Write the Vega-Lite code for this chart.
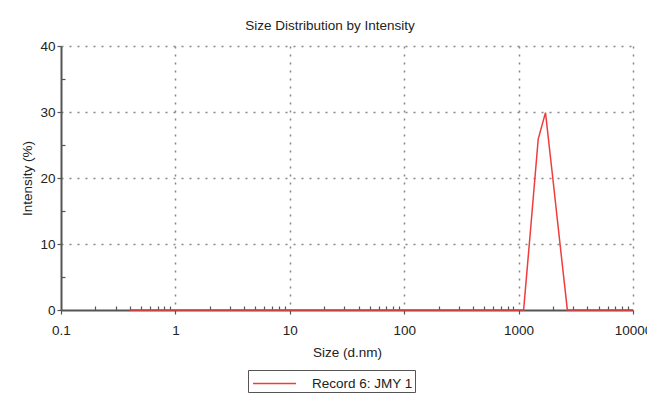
{
  "$schema": "https://vega.github.io/schema/vega-lite/v6.json",
  "width": 572,
  "height": 264,
  "autosize": {"type": "none"},
  "padding": {"left": 61, "top": 46, "right": 14, "bottom": 88},
  "background": "white",
  "title": {
    "text": "Size Distribution by Intensity",
    "font": "Liberation Sans",
    "fontSize": 13.5,
    "fontWeight": "normal",
    "color": "#222",
    "anchor": "middle",
    "dx": -17,
    "offset": 7
  },
  "config": {
    "view": {"stroke": null},
    "font": "Liberation Sans"
  },
  "data": {
    "values": [
      {"size": 0.4, "intensity": 0, "series": "Record 6: JMY 1"},
      {"size": 0.4632, "intensity": 0, "series": "Record 6: JMY 1"},
      {"size": 0.5365, "intensity": 0, "series": "Record 6: JMY 1"},
      {"size": 0.6213, "intensity": 0, "series": "Record 6: JMY 1"},
      {"size": 0.7195, "intensity": 0, "series": "Record 6: JMY 1"},
      {"size": 0.8332, "intensity": 0, "series": "Record 6: JMY 1"},
      {"size": 0.9649, "intensity": 0, "series": "Record 6: JMY 1"},
      {"size": 1.117, "intensity": 0, "series": "Record 6: JMY 1"},
      {"size": 1.499, "intensity": 0, "series": "Record 6: JMY 1"},
      {"size": 2.01, "intensity": 0, "series": "Record 6: JMY 1"},
      {"size": 2.696, "intensity": 0, "series": "Record 6: JMY 1"},
      {"size": 3.615, "intensity": 0, "series": "Record 6: JMY 1"},
      {"size": 4.849, "intensity": 0, "series": "Record 6: JMY 1"},
      {"size": 6.503, "intensity": 0, "series": "Record 6: JMY 1"},
      {"size": 8.721, "intensity": 0, "series": "Record 6: JMY 1"},
      {"size": 11.7, "intensity": 0, "series": "Record 6: JMY 1"},
      {"size": 15.69, "intensity": 0, "series": "Record 6: JMY 1"},
      {"size": 21.04, "intensity": 0, "series": "Record 6: JMY 1"},
      {"size": 28.21, "intensity": 0, "series": "Record 6: JMY 1"},
      {"size": 37.84, "intensity": 0, "series": "Record 6: JMY 1"},
      {"size": 50.75, "intensity": 0, "series": "Record 6: JMY 1"},
      {"size": 68.06, "intensity": 0, "series": "Record 6: JMY 1"},
      {"size": 91.28, "intensity": 0, "series": "Record 6: JMY 1"},
      {"size": 122.4, "intensity": 0, "series": "Record 6: JMY 1"},
      {"size": 164.2, "intensity": 0, "series": "Record 6: JMY 1"},
      {"size": 220.2, "intensity": 0, "series": "Record 6: JMY 1"},
      {"size": 295.3, "intensity": 0, "series": "Record 6: JMY 1"},
      {"size": 396.1, "intensity": 0, "series": "Record 6: JMY 1"},
      {"size": 531.2, "intensity": 0, "series": "Record 6: JMY 1"},
      {"size": 712.4, "intensity": 0, "series": "Record 6: JMY 1"},
      {"size": 955.4, "intensity": 0, "series": "Record 6: JMY 1"},
      {"size": 1106, "intensity": 0, "series": "Record 6: JMY 1"},
      {"size": 1281, "intensity": 12.8, "series": "Record 6: JMY 1"},
      {"size": 1484, "intensity": 25.9, "series": "Record 6: JMY 1"},
      {"size": 1718, "intensity": 29.9, "series": "Record 6: JMY 1"},
      {"size": 1990, "intensity": 20.0, "series": "Record 6: JMY 1"},
      {"size": 2305, "intensity": 9.9, "series": "Record 6: JMY 1"},
      {"size": 2669, "intensity": 0, "series": "Record 6: JMY 1"},
      {"size": 3580, "intensity": 0, "series": "Record 6: JMY 1"},
      {"size": 4801, "intensity": 0, "series": "Record 6: JMY 1"},
      {"size": 6439, "intensity": 0, "series": "Record 6: JMY 1"},
      {"size": 8635, "intensity": 0, "series": "Record 6: JMY 1"},
      {"size": 10000, "intensity": 0, "series": "Record 6: JMY 1"}
    ]
  },
  "mark": {"type": "line", "strokeWidth": 1.5, "clip": false},
  "encoding": {
    "x": {
      "field": "size",
      "type": "quantitative",
      "scale": {"type": "log", "domain": [0.1, 10000], "nice": false},
      "axis": {
        "title": "Size (d.nm)",
        "titleFontSize": 13.5,
        "titleFontWeight": "normal",
        "titleColor": "#222",
        "titlePadding": 9,
        "values": [0.1,0.2,0.3,0.4,0.5,0.6,0.7,0.8,0.9,1,2,3,4,5,6,7,8,9,10,20,30,40,50,60,70,80,90,100,200,300,400,500,600,700,800,900,1000,2000,3000,4000,5000,6000,7000,8000,9000,10000],
        "labelExpr": "indexof([0.1,1,10,100,1000,10000], datum.value) >= 0 ? datum.label : ''",
        "format": "~g",
        "labelFontSize": 13.5,
        "labelColor": "#222",
        "labelPadding": 9,
        "labelFlush": false,
        "labelOverlap": false,
        "domainColor": "#555",
        "domainWidth": 2,
        "tickColor": "#555",
        "tickSize": {"condition": {"test": "indexof([0.1,1,10,100,1000,10000], datum.value) >= 0", "value": 4}, "value": -4},
        "tickWidth": 1.2,
        "grid": true,
        "gridColor": "#888",
        "gridDash": [2, 6],
        "gridWidth": 1.5,
        "gridOpacity": {"condition": {"test": "indexof([1,10,100,1000,10000], datum.value) >= 0", "value": 1}, "value": 0}
      }
    },
    "y": {
      "field": "intensity",
      "type": "quantitative",
      "scale": {"domain": [0, 40], "nice": false},
      "axis": {
        "title": "Intensity (%)",
        "titleFontSize": 13.5,
        "titleFontWeight": "normal",
        "titleColor": "#222",
        "titlePadding": 5,
        "values": [0,5,10,15,20,25,30,35,40],
        "labelExpr": "datum.value % 10 == 0 ? datum.label : ''",
        "labelFontSize": 13.5,
        "labelColor": "#222",
        "labelPadding": 2,
        "domainColor": "#555",
        "domainWidth": 2,
        "tickColor": "#555",
        "tickSize": {"condition": {"test": "datum.value % 10 == 0", "value": 4}, "value": -4},
        "tickWidth": 1.2,
        "grid": true,
        "gridColor": "#888",
        "gridDash": [2, 6],
        "gridWidth": 1.5,
        "gridOpacity": {"condition": {"test": "datum.value % 10 == 0 && datum.value > 0", "value": 1}, "value": 0}
      }
    },
    "color": {
      "field": "series",
      "type": "nominal",
      "scale": {"range": ["#f03c3c"]},
      "legend": {
        "title": null,
        "orient": "none",
        "legendX": 187,
        "legendY": 324,
        "symbolType": "M-0.81,0L3.29,0",
        "symbolSize": 441,
        "symbolStrokeWidth": 1.5,
        "labelFontSize": 13.5,
        "labelColor": "#222",
        "labelOffset": 39,
        "strokeColor": "#555",
        "padding": 2,
        "fillColor": "white"
      }
    }
  }
}
